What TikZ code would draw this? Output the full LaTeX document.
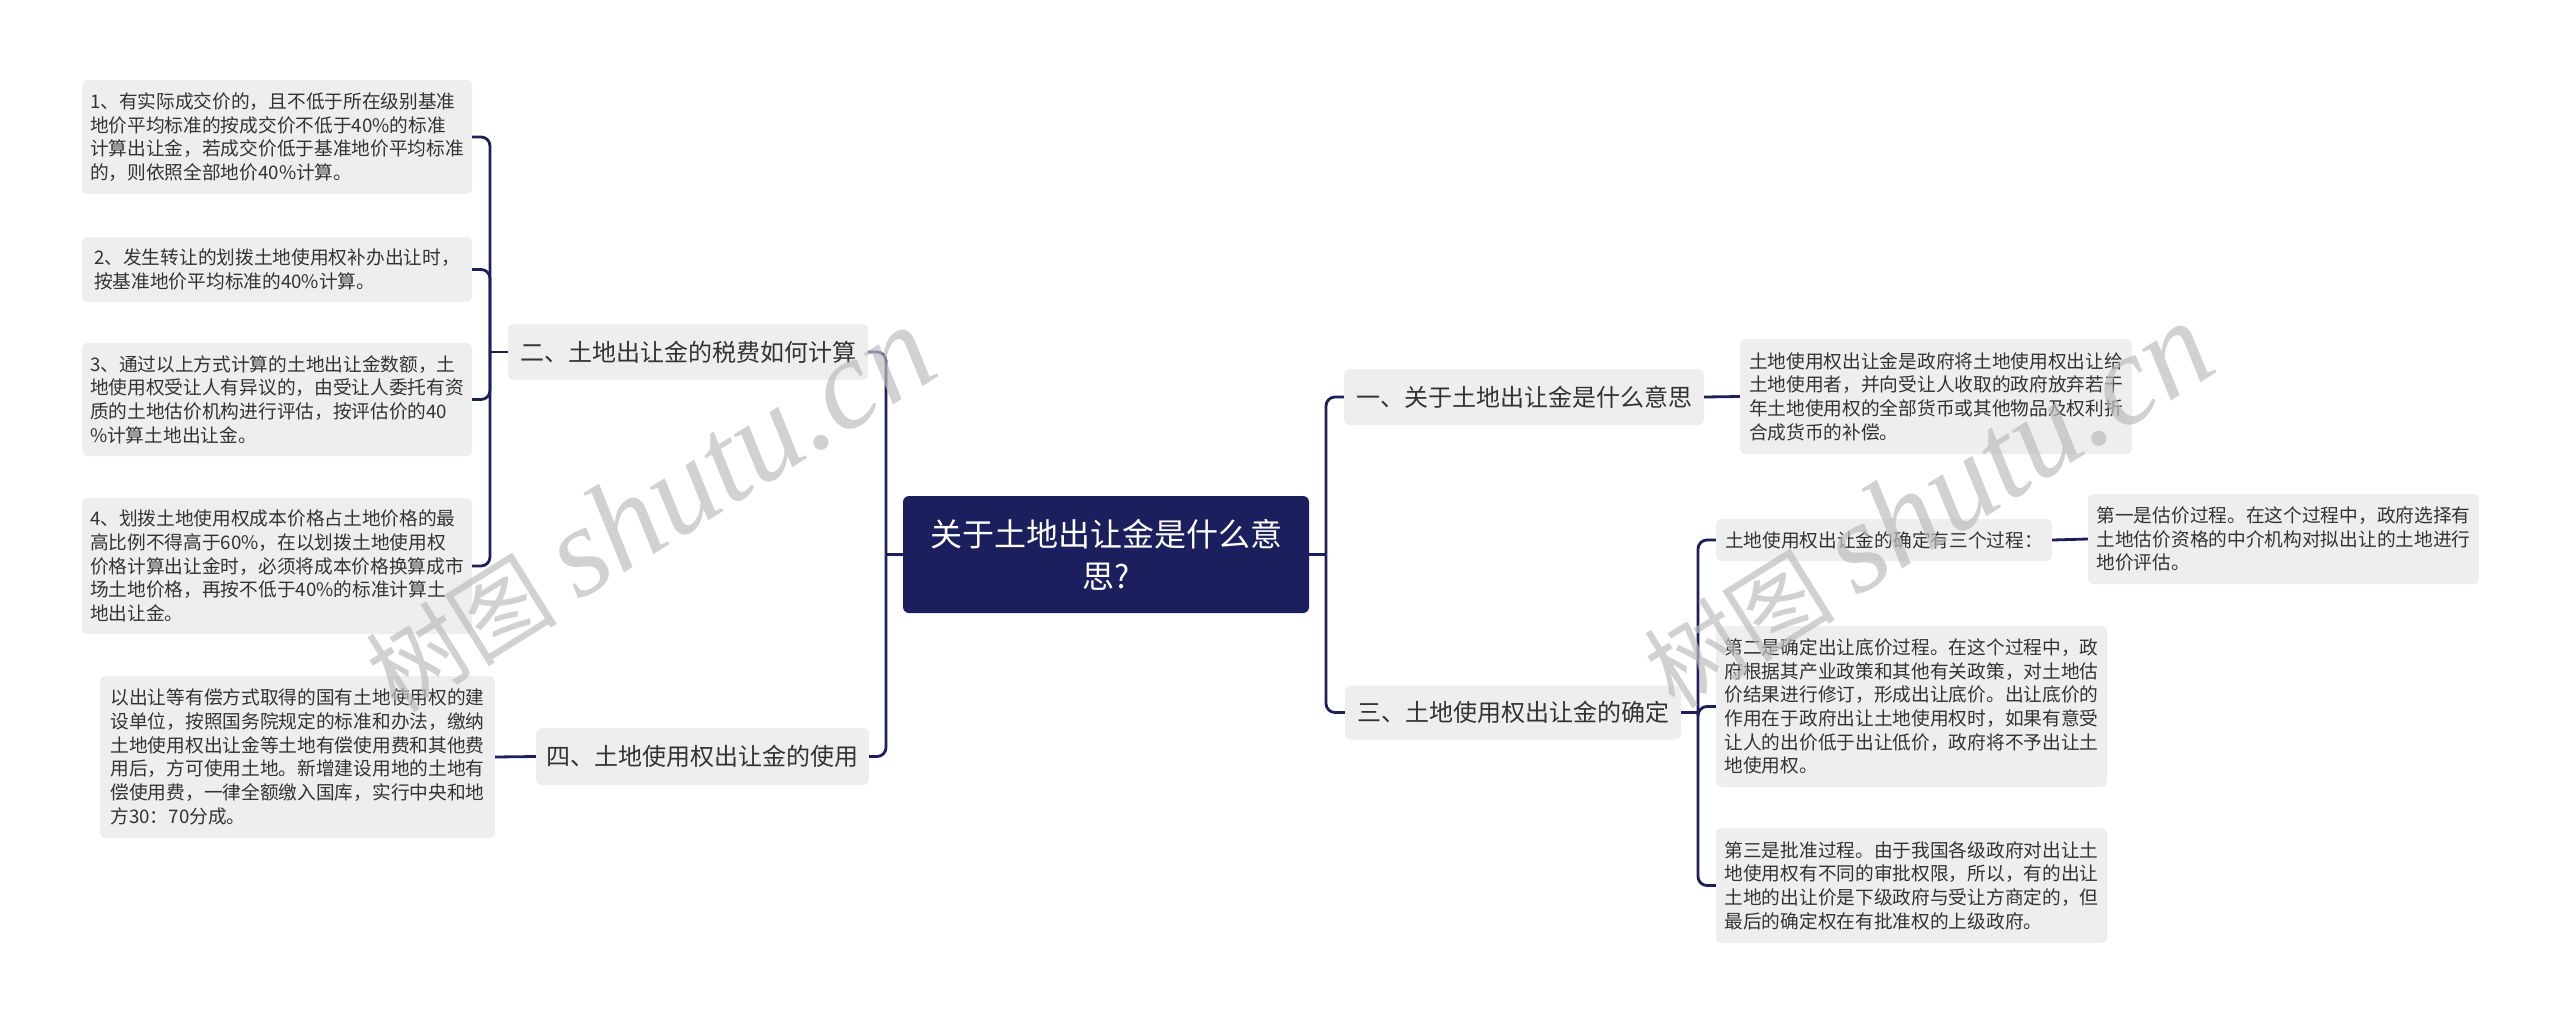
\documentclass[tikz,border=0pt]{standalone}
\usepackage{fontspec}
\usepackage{xcolor}
\usepackage{tikz}
\setmainfont{Noto Sans CJK SC}
\newfontfamily\markfont{Liberation Serif}

\definecolor{navy}{HTML}{1B1F5E}
\definecolor{boxgray}{HTML}{EEEEEE}
\definecolor{inkgray}{HTML}{333333}
\definecolor{markgray}{HTML}{BDBDBD}

\begin{document}
\begin{tikzpicture}[x=1pt,y=-1pt,
  leaf/.style={fill=boxgray,rounded corners=5pt,text=inkgray,align=left,
    inner sep=0pt,font=\fontsize{18.7}{23.7}\selectfont},
  topic/.style={fill=boxgray,rounded corners=6pt,text=inkgray,inner sep=0pt,
    font=\fontsize{24}{28}\selectfont},
  root/.style={fill=navy,rounded corners=6pt,text=white,align=center,
    inner sep=0pt,font=\fontsize{32}{42}\selectfont},
  link/.style={draw=navy,line width=2.8pt,rounded corners=9pt},
  watermark/.style={text=markgray,opacity=0.7,rotate=32,inner sep=0pt}]

\useasboundingbox (0,0) rectangle (2560,1023);

% Centro
\node[root,minimum width=406pt,minimum height=117pt] (root) at (1106,554.5)
  {关于土地出让金是什么意\\思?};

% Ramo sinistro: due
\node[topic,minimum width=360pt,minimum height=56pt] (calc) at (688,352)
  {二、土地出让金的税费如何计算};
\node[leaf,minimum width=390pt,minimum height=114pt] (rule1) at (277,137)
  {1、有实际成交价的，且不低于所在级别基准\\地价平均标准的按成交价不低于40\%的标准\\计算出让金，若成交价低于基准地价平均标准\\的，则依照全部地价40\%计算。};
\node[leaf,minimum width=390pt,minimum height=65pt] (rule2) at (277,269.5)
  {2、发生转让的划拨土地使用权补办出让时，\\按基准地价平均标准的40\%计算。};
\node[leaf,minimum width=390pt,minimum height=113pt] (rule3) at (277,399.5)
  {3、通过以上方式计算的土地出让金数额，土\\地使用权受让人有异议的，由受让人委托有资\\质的土地估价机构进行评估，按评估价的40\\\%计算土地出让金。};
\node[leaf,minimum width=390pt,minimum height=136pt] (rule4) at (277,566)
  {4、划拨土地使用权成本价格占土地价格的最\\高比例不得高于60\%，在以划拨土地使用权\\价格计算出让金时，必须将成本价格换算成市\\场土地价格，再按不低于40\%的标准计算土\\地出让金。};

% Ramo sinistro: quattro
\node[topic,minimum width=333pt,minimum height=57pt] (use) at (702.5,756.5)
  {四、土地使用权出让金的使用};
\node[leaf,minimum width=395pt,minimum height=162pt] (useleaf) at (297.5,757)
  {以出让等有偿方式取得的国有土地使用权的建\\设单位，按照国务院规定的标准和办法，缴纳\\土地使用权出让金等土地有偿使用费和其他费\\用后，方可使用土地。新增建设用地的土地有\\偿使用费，一律全额缴入国库，实行中央和地\\方30：70分成。};

% Ramo destro: uno
\node[topic,minimum width=360pt,minimum height=56pt] (meaning) at (1524,397)
  {一、关于土地出让金是什么意思};
\node[leaf,minimum width=392pt,minimum height=115pt] (meanleaf) at (1936,396.5)
  {土地使用权出让金是政府将土地使用权出让给\\土地使用者，并向受让人收取的政府放弃若干\\年土地使用权的全部货币或其他物品及权利折\\合成货币的补偿。};

% Ramo destro: tre
\node[topic,minimum width=336pt,minimum height=54pt] (fix) at (1513,712.5)
  {三、土地使用权出让金的确定};
\node[leaf,minimum width=336pt,minimum height=42pt] (step1) at (1884,540)
  {土地使用权出让金的确定有三个过程：};
\node[leaf,minimum width=391pt,minimum height=90pt] (step1leaf) at (2283.5,539)
  {第一是估价过程。在这个过程中，政府选择有\\土地估价资格的中介机构对拟出让的土地进行\\地价评估。};
\node[leaf,minimum width=391pt,minimum height=161pt] (step2) at (1911.5,706.5)
  {第二是确定出让底价过程。在这个过程中，政\\府根据其产业政策和其他有关政策，对土地估\\价结果进行修订，形成出让底价。出让底价的\\作用在于政府出让土地使用权时，如果有意受\\让人的出价低于出让低价，政府将不予出让土\\地使用权。};
\node[leaf,minimum width=391pt,minimum height=115pt] (step3) at (1911.5,885.5)
  {第三是批准过程。由于我国各级政府对出让土\\地使用权有不同的审批权限，所以，有的出让\\土地的出让价是下级政府与受让方商定的，但\\最后的确定权在有批准权的上级政府。};

% Collegamenti
\coordinate (lfork) at (886,554.5);
\coordinate (rfork) at (1326,554.5);
\coordinate (calcfork) at (490,352);
\coordinate (fixfork) at (1698,712.5);

\draw[link] (root.west) -- (lfork);
\draw[link] (lfork) |- (calc.east);
\draw[link] (lfork) |- (use.east);
\draw[link] (root.east) -- (rfork);
\draw[link] (rfork) |- (meaning.west);
\draw[link] (rfork) |- (fix.west);

\draw[link] (calc.west) -- (calcfork);
\foreach \n in {rule1,rule2,rule3,rule4}
  \draw[link] (calcfork) |- (\n.east);
\draw[link] (use.west) -- (useleaf.east);
\draw[link] (meaning.east) -- (meanleaf.west);

\draw[link] (fix.east) -- (fixfork);
\foreach \n in {step1,step2,step3}
  \draw[link] (fixfork) |- (\n.west);
\draw[link] (step1.east) -- (step1leaf.west);

% Filigrana
\node[watermark] (mark1) at (649,510)
  {\fontsize{96}{96}\selectfont 树图 {\markfont\itshape\fontsize{128}{128}\selectfont shutu.cn}};
\node[watermark] (mark2) at (1927,506)
  {\fontsize{96}{96}\selectfont 树图 {\markfont\itshape\fontsize{128}{128}\selectfont shutu.cn}};
\end{tikzpicture}
\end{document}
